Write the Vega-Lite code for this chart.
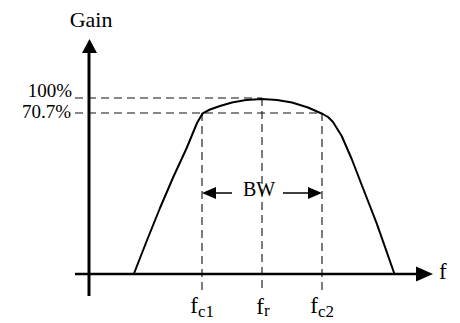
{
  "$schema": "https://vega.github.io/schema/vega-lite/v6.json",
  "width": 460,
  "height": 323,
  "autosize": {"type": "fit", "contains": "padding"},
  "padding": 0,
  "background": "white",
  "config": {"view": {"stroke": null}, "font": "'Times New Roman', 'Liberation Serif', serif"},
  "encoding": {
    "x": {"field": "x", "type": "quantitative", "scale": {"domain": [0, 460], "nice": false, "zero": false}, "axis": null},
    "y": {"field": "y", "type": "quantitative", "scale": {"domain": [0, 323], "nice": false, "zero": false}, "axis": null}
  },
  "layer": [
    {
      "data": {"values": [
        {"x": 75, "x2": 262, "y": 225, "y2": 225},
        {"x": 75, "x2": 322, "y": 210, "y2": 210},
        {"x": 202, "x2": 202, "y": 210, "y2": 33},
        {"x": 262, "x2": 262, "y": 225, "y2": 33},
        {"x": 322, "x2": 322, "y": 210, "y2": 33}
      ]},
      "mark": {"type": "rule", "strokeDash": [8, 5], "strokeWidth": 1.1, "color": "#111"},
      "encoding": {"x2": {"field": "x2"}, "y2": {"field": "y2"}}
    },
    {
      "data": {"values": [
        {"x": 214, "x2": 232, "y": 130, "y2": 130},
        {"x": 283, "x2": 310, "y": 130, "y2": 130}
      ]},
      "mark": {"type": "rule", "strokeWidth": 1.5, "color": "black"},
      "encoding": {"x2": {"field": "x2"}, "y2": {"field": "y2"}}
    },
    {
      "data": {"values": [{"x": 75, "x2": 420, "y": 49, "y2": 49}]},
      "mark": {"type": "rule", "strokeWidth": 2.5, "color": "black"},
      "encoding": {"x2": {"field": "x2"}, "y2": {"field": "y2"}}
    },
    {
      "data": {"values": [{"x": 89, "x2": 89, "y": 27, "y2": 272}]},
      "mark": {"type": "rule", "strokeWidth": 3, "color": "black"},
      "encoding": {"x2": {"field": "x2"}, "y2": {"field": "y2"}}
    },
    {
      "data": {"values": [
        {"x": 134, "y": 49.5}, {"x": 146.7, "y": 82}, {"x": 160, "y": 115}, {"x": 173.3, "y": 146},
        {"x": 186.7, "y": 175}, {"x": 197, "y": 200}, {"x": 202.7, "y": 209.7}, {"x": 210, "y": 213.5},
        {"x": 220, "y": 217}, {"x": 232, "y": 220.5}, {"x": 246, "y": 223}, {"x": 262, "y": 224}, {"x": 277, "y": 223},
        {"x": 292, "y": 220.5}, {"x": 308, "y": 215.5}, {"x": 322.7, "y": 209}, {"x": 328, "y": 206}, {"x": 333, "y": 201},
        {"x": 341.7, "y": 187}, {"x": 351.7, "y": 164}, {"x": 363.3, "y": 134}, {"x": 376.7, "y": 99.7},
        {"x": 394.3, "y": 49.5}
      ]},
      "mark": {"type": "line", "strokeWidth": 2, "color": "black", "interpolate": "linear", "strokeJoin": "round"},
      "encoding": {"order": {"field": "x", "type": "quantitative"}}
    },
    {
      "data": {"values": [{"x": 424.5, "y": 49}]},
      "mark": {"type": "point", "shape": "M-1,-0.88L1,0L-1,0.88Z", "size": 289, "filled": true, "opacity": 1, "color": "black"}
    },
    {
      "data": {"values": [{"x": 89.5, "y": 277}]},
      "mark": {"type": "point", "shape": "M0,-1L1.07,1L-1.07,1Z", "size": 196, "filled": true, "opacity": 1, "color": "black"}
    },
    {
      "data": {"values": [{"x": 209, "y": 130}]},
      "mark": {"type": "point", "shape": "M-1,0L1,-0.86L1,0.86Z", "size": 196, "filled": true, "opacity": 1, "color": "black"}
    },
    {
      "data": {"values": [{"x": 315, "y": 130}]},
      "mark": {"type": "point", "shape": "M1,0L-1,-0.86L-1,0.86Z", "size": 196, "filled": true, "opacity": 1, "color": "black"}
    },
    {
      "data": {"values": [{"x": 72, "y": 226, "t": "100%"}, {"x": 71, "y": 205, "t": "70.7%"}]},
      "mark": {"type": "text", "color": "black", "align": "right", "baseline": "alphabetic", "fontSize": 19},
      "encoding": {"text": {"field": "t"}}
    },
    {
      "data": {"values": [{"x": 91, "y": 296, "t": "Gain"}]},
      "mark": {"type": "text", "color": "black", "align": "center", "baseline": "alphabetic", "fontSize": 22},
      "encoding": {"text": {"field": "t"}}
    },
    {
      "data": {"values": [{"x": 259, "y": 127, "t": "BW"}]},
      "mark": {"type": "text", "color": "black", "align": "center", "baseline": "alphabetic", "fontSize": 20},
      "encoding": {"text": {"field": "t"}}
    },
    {
      "data": {"values": [{"x": 439, "y": 44, "t": "f"}]},
      "mark": {"type": "text", "color": "black", "align": "left", "baseline": "alphabetic", "fontSize": 23},
      "encoding": {"text": {"field": "t"}}
    },
    {
      "data": {"values": [{"x": 198, "y": 10, "t": "f"}, {"x": 264, "y": 9, "t": "f"}, {"x": 318, "y": 10, "t": "f"}]},
      "mark": {"type": "text", "color": "black", "align": "right", "baseline": "alphabetic", "fontSize": 23},
      "encoding": {"text": {"field": "t"}}
    },
    {
      "data": {"values": [{"x": 198, "y": 6, "t": "c1"}, {"x": 264, "y": 7, "t": "r"}, {"x": 318, "y": 6, "t": "c2"}]},
      "mark": {"type": "text", "color": "black", "align": "left", "baseline": "alphabetic", "fontSize": 17},
      "encoding": {"text": {"field": "t"}}
    }
  ]
}
